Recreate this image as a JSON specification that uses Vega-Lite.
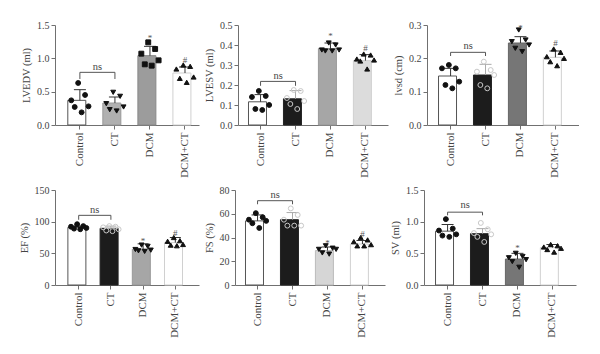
{
"$schema": "https://vega.github.io/schema/vega-lite/v6.json",
"background": "white",
"padding": {"left": 19, "top": 20, "right": 0, "bottom": 0},
"datasets": {
"bars": [
{"panel":"LVEDV","group":"Control","mean":0.37,"upper":0.53},
{"panel":"LVEDV","group":"CT","mean":0.33,"upper":0.42},
{"panel":"LVEDV","group":"DCM","mean":1.04,"upper":1.18},
{"panel":"LVEDV","group":"DCM+CT","mean":0.78,"upper":0.87},
{"panel":"LVESV","group":"Control","mean":0.116,"upper":0.152},
{"panel":"LVESV","group":"CT","mean":0.131,"upper":0.172},
{"panel":"LVESV","group":"DCM","mean":0.382,"upper":0.41},
{"panel":"LVESV","group":"DCM+CT","mean":0.322,"upper":0.352},
{"panel":"lvsd","group":"Control","mean":0.147,"upper":0.17},
{"panel":"lvsd","group":"CT","mean":0.15,"upper":0.182},
{"panel":"lvsd","group":"DCM","mean":0.246,"upper":0.265},
{"panel":"lvsd","group":"DCM+CT","mean":0.203,"upper":0.222},
{"panel":"EF","group":"Control","mean":91,"upper":93},
{"panel":"EF","group":"CT","mean":89.5,"upper":93},
{"panel":"EF","group":"DCM","mean":56.5,"upper":65},
{"panel":"EF","group":"DCM+CT","mean":67,"upper":75},
{"panel":"FS","group":"Control","mean":54,"upper":59},
{"panel":"FS","group":"CT","mean":55,"upper":61},
{"panel":"FS","group":"DCM","mean":29,"upper":32},
{"panel":"FS","group":"DCM+CT","mean":34.5,"upper":37.5},
{"panel":"SV","group":"Control","mean":0.85,"upper":0.955},
{"panel":"SV","group":"CT","mean":0.81,"upper":0.89},
{"panel":"SV","group":"DCM","mean":0.41,"upper":0.5},
{"panel":"SV","group":"DCM+CT","mean":0.59,"upper":0.64}
],
"points": [
{"panel":"LVEDV","group":"Control","rep":1,"value":0.37},{"panel":"LVEDV","group":"Control","rep":2,"value":0.27},{"panel":"LVEDV","group":"Control","rep":3,"value":0.63},{"panel":"LVEDV","group":"Control","rep":4,"value":0.19},{"panel":"LVEDV","group":"Control","rep":5,"value":0.45},{"panel":"LVEDV","group":"Control","rep":6,"value":0.28},
{"panel":"LVEDV","group":"CT","rep":1,"value":0.32},{"panel":"LVEDV","group":"CT","rep":2,"value":0.23},{"panel":"LVEDV","group":"CT","rep":3,"value":0.49},{"panel":"LVEDV","group":"CT","rep":4,"value":0.21},{"panel":"LVEDV","group":"CT","rep":5,"value":0.43},{"panel":"LVEDV","group":"CT","rep":6,"value":0.27},
{"panel":"LVEDV","group":"DCM","rep":1,"value":1.07},{"panel":"LVEDV","group":"DCM","rep":2,"value":0.91},{"panel":"LVEDV","group":"DCM","rep":3,"value":1.24},{"panel":"LVEDV","group":"DCM","rep":4,"value":0.89},{"panel":"LVEDV","group":"DCM","rep":5,"value":1.14},{"panel":"LVEDV","group":"DCM","rep":6,"value":0.97},
{"panel":"LVEDV","group":"DCM+CT","rep":1,"value":0.84},{"panel":"LVEDV","group":"DCM+CT","rep":2,"value":0.70},{"panel":"LVEDV","group":"DCM+CT","rep":3,"value":0.90},{"panel":"LVEDV","group":"DCM+CT","rep":4,"value":0.64},{"panel":"LVEDV","group":"DCM+CT","rep":5,"value":0.88},{"panel":"LVEDV","group":"DCM+CT","rep":6,"value":0.72},
{"panel":"LVESV","group":"Control","rep":1,"value":0.14},{"panel":"LVESV","group":"Control","rep":2,"value":0.08},{"panel":"LVESV","group":"Control","rep":3,"value":0.17},{"panel":"LVESV","group":"Control","rep":4,"value":0.075},{"panel":"LVESV","group":"Control","rep":5,"value":0.145},{"panel":"LVESV","group":"Control","rep":6,"value":0.10},
{"panel":"LVESV","group":"CT","rep":1,"value":0.135},{"panel":"LVESV","group":"CT","rep":2,"value":0.105},{"panel":"LVESV","group":"CT","rep":3,"value":0.175},{"panel":"LVESV","group":"CT","rep":4,"value":0.08},{"panel":"LVESV","group":"CT","rep":5,"value":0.17},{"panel":"LVESV","group":"CT","rep":6,"value":0.12},
{"panel":"LVESV","group":"DCM","rep":1,"value":0.375},{"panel":"LVESV","group":"DCM","rep":2,"value":0.37},{"panel":"LVESV","group":"DCM","rep":3,"value":0.41},{"panel":"LVESV","group":"DCM","rep":4,"value":0.37},{"panel":"LVESV","group":"DCM","rep":5,"value":0.40},{"panel":"LVESV","group":"DCM","rep":6,"value":0.375},
{"panel":"LVESV","group":"DCM+CT","rep":1,"value":0.33},{"panel":"LVESV","group":"DCM+CT","rep":2,"value":0.32},{"panel":"LVESV","group":"DCM+CT","rep":3,"value":0.355},{"panel":"LVESV","group":"DCM+CT","rep":4,"value":0.28},{"panel":"LVESV","group":"DCM+CT","rep":5,"value":0.35},{"panel":"LVESV","group":"DCM+CT","rep":6,"value":0.325},
{"panel":"lvsd","group":"Control","rep":1,"value":0.17},{"panel":"lvsd","group":"Control","rep":2,"value":0.12},{"panel":"lvsd","group":"Control","rep":3,"value":0.18},{"panel":"lvsd","group":"Control","rep":4,"value":0.11},{"panel":"lvsd","group":"Control","rep":5,"value":0.17},{"panel":"lvsd","group":"Control","rep":6,"value":0.13},
{"panel":"lvsd","group":"CT","rep":1,"value":0.16},{"panel":"lvsd","group":"CT","rep":2,"value":0.12},{"panel":"lvsd","group":"CT","rep":3,"value":0.19},{"panel":"lvsd","group":"CT","rep":4,"value":0.11},{"panel":"lvsd","group":"CT","rep":5,"value":0.165},{"panel":"lvsd","group":"CT","rep":6,"value":0.15},
{"panel":"lvsd","group":"DCM","rep":1,"value":0.25},{"panel":"lvsd","group":"DCM","rep":2,"value":0.23},{"panel":"lvsd","group":"DCM","rep":3,"value":0.285},{"panel":"lvsd","group":"DCM","rep":4,"value":0.22},{"panel":"lvsd","group":"DCM","rep":5,"value":0.255},{"panel":"lvsd","group":"DCM","rep":6,"value":0.24},
{"panel":"lvsd","group":"DCM+CT","rep":1,"value":0.205},{"panel":"lvsd","group":"DCM+CT","rep":2,"value":0.19},{"panel":"lvsd","group":"DCM+CT","rep":3,"value":0.228},{"panel":"lvsd","group":"DCM+CT","rep":4,"value":0.178},{"panel":"lvsd","group":"DCM+CT","rep":5,"value":0.218},{"panel":"lvsd","group":"DCM+CT","rep":6,"value":0.20},
{"panel":"EF","group":"Control","rep":1,"value":92},{"panel":"EF","group":"Control","rep":2,"value":89},{"panel":"EF","group":"Control","rep":3,"value":96},{"panel":"EF","group":"Control","rep":4,"value":88},{"panel":"EF","group":"Control","rep":5,"value":93},{"panel":"EF","group":"Control","rep":6,"value":90},
{"panel":"EF","group":"CT","rep":1,"value":91},{"panel":"EF","group":"CT","rep":2,"value":86},{"panel":"EF","group":"CT","rep":3,"value":93},{"panel":"EF","group":"CT","rep":4,"value":85},{"panel":"EF","group":"CT","rep":5,"value":92},{"panel":"EF","group":"CT","rep":6,"value":88},
{"panel":"EF","group":"DCM","rep":1,"value":56},{"panel":"EF","group":"DCM","rep":2,"value":54},{"panel":"EF","group":"DCM","rep":3,"value":63},{"panel":"EF","group":"DCM","rep":4,"value":53},{"panel":"EF","group":"DCM","rep":5,"value":61},{"panel":"EF","group":"DCM","rep":6,"value":55},
{"panel":"EF","group":"DCM+CT","rep":1,"value":69},{"panel":"EF","group":"DCM+CT","rep":2,"value":63},{"panel":"EF","group":"DCM+CT","rep":3,"value":75},{"panel":"EF","group":"DCM+CT","rep":4,"value":62},{"panel":"EF","group":"DCM+CT","rep":5,"value":70},{"panel":"EF","group":"DCM+CT","rep":6,"value":64},
{"panel":"FS","group":"Control","rep":1,"value":55},{"panel":"FS","group":"Control","rep":2,"value":52},{"panel":"FS","group":"Control","rep":3,"value":60.5},{"panel":"FS","group":"Control","rep":4,"value":48},{"panel":"FS","group":"Control","rep":5,"value":57},{"panel":"FS","group":"Control","rep":6,"value":54},
{"panel":"FS","group":"CT","rep":1,"value":55},{"panel":"FS","group":"CT","rep":2,"value":50},{"panel":"FS","group":"CT","rep":3,"value":64.5},{"panel":"FS","group":"CT","rep":4,"value":50},{"panel":"FS","group":"CT","rep":5,"value":59},{"panel":"FS","group":"CT","rep":6,"value":50},
{"panel":"FS","group":"DCM","rep":1,"value":30},{"panel":"FS","group":"DCM","rep":2,"value":27},{"panel":"FS","group":"DCM","rep":3,"value":33},{"panel":"FS","group":"DCM","rep":4,"value":26},{"panel":"FS","group":"DCM","rep":5,"value":31},{"panel":"FS","group":"DCM","rep":6,"value":30},
{"panel":"FS","group":"DCM+CT","rep":1,"value":36.5},{"panel":"FS","group":"DCM+CT","rep":2,"value":33},{"panel":"FS","group":"DCM+CT","rep":3,"value":40},{"panel":"FS","group":"DCM+CT","rep":4,"value":33},{"panel":"FS","group":"DCM+CT","rep":5,"value":38},{"panel":"FS","group":"DCM+CT","rep":6,"value":34},
{"panel":"SV","group":"Control","rep":1,"value":0.86},{"panel":"SV","group":"Control","rep":2,"value":0.78},{"panel":"SV","group":"Control","rep":3,"value":1.04},{"panel":"SV","group":"Control","rep":4,"value":0.76},{"panel":"SV","group":"Control","rep":5,"value":0.89},{"panel":"SV","group":"Control","rep":6,"value":0.80},
{"panel":"SV","group":"CT","rep":1,"value":0.82},{"panel":"SV","group":"CT","rep":2,"value":0.76},{"panel":"SV","group":"CT","rep":3,"value":0.98},{"panel":"SV","group":"CT","rep":4,"value":0.68},{"panel":"SV","group":"CT","rep":5,"value":0.88},{"panel":"SV","group":"CT","rep":6,"value":0.80},
{"panel":"SV","group":"DCM","rep":1,"value":0.43},{"panel":"SV","group":"DCM","rep":2,"value":0.37},{"panel":"SV","group":"DCM","rep":3,"value":0.50},{"panel":"SV","group":"DCM","rep":4,"value":0.28},{"panel":"SV","group":"DCM","rep":5,"value":0.45},{"panel":"SV","group":"DCM","rep":6,"value":0.40},
{"panel":"SV","group":"DCM+CT","rep":1,"value":0.60},{"panel":"SV","group":"DCM+CT","rep":2,"value":0.56},{"panel":"SV","group":"DCM+CT","rep":3,"value":0.64},{"panel":"SV","group":"DCM+CT","rep":4,"value":0.52},{"panel":"SV","group":"DCM+CT","rep":5,"value":0.62},{"panel":"SV","group":"DCM+CT","rep":6,"value":0.58}
],
"brackets": [
{"panel":"LVEDV","from":"Control","to":"CT","y":0.79,"ylow":0.69,"ytext":0.87,"label":"ns"},
{"panel":"LVESV","from":"Control","to":"CT","y":0.218,"ylow":0.196,"ytext":0.245,"label":"ns"},
{"panel":"lvsd","from":"Control","to":"CT","y":0.218,"ylow":0.207,"ytext":0.236,"label":"ns"},
{"panel":"EF","from":"Control","to":"CT","y":110,"ylow":103,"ytext":119,"label":"ns"},
{"panel":"FS","from":"Control","to":"CT","y":71,"ylow":68,"ytext":76,"label":"ns"},
{"panel":"SV","from":"Control","to":"CT","y":1.15,"ylow":1.1,"ytext":1.26,"label":"ns"}
],
"sig": [
{"panel":"LVEDV","group":"DCM","y":1.31,"label":"*"},
{"panel":"LVEDV","group":"DCM+CT","y":0.97,"label":"#"},
{"panel":"LVESV","group":"DCM","y":0.445,"label":"*"},
{"panel":"LVESV","group":"DCM+CT","y":0.385,"label":"#"},
{"panel":"lvsd","group":"DCM","y":0.29,"label":"*"},
{"panel":"lvsd","group":"DCM+CT","y":0.245,"label":"#"},
{"panel":"EF","group":"DCM","y":69,"label":"*"},
{"panel":"EF","group":"DCM+CT","y":82,"label":"#"},
{"panel":"FS","group":"DCM","y":35,"label":"*"},
{"panel":"FS","group":"DCM+CT","y":43,"label":"#"},
{"panel":"SV","group":"DCM","y":0.59,"label":"*"}
]
},
"spacing": 7,
"resolve": {"scale": {"xOffset": "independent"}},
"vconcat": [
{"hconcat": [
{"width": 144, "height": 100, "layer": [
{"data": {"name": "bars"}, "transform": [{"filter": "datum.panel === 'LVEDV'"}], "mark": {"type": "bar", "strokeWidth": 1},
 "encoding": {
  "x": {"field": "group", "type": "nominal", "title": null, "scale": {"domain": ["Control","CT","DCM","DCM+CT"], "paddingInner": 0.31, "paddingOuter": 0.21, "align": 0.87}},
  "y": {"field": "mean", "type": "quantitative", "scale": {"domain": [0, 1.5], "nice": false}, "axis": {"title": "LVEDV (ml)", "orient": "left", "values": [0, 0.5, 1, 1.5], "format": ".1f", "labelOverlap": false, "labelBound": false, "labelFlush": false, "titleAnchor": "middle", "titleAlign": "center"}},
  "fill": {"condition": [{"test": "datum.group === 'CT'", "value": "#b0b0b0"}, {"test": "datum.group === 'DCM'", "value": "#9c9c9c"}], "value": "#ffffff"},
  "stroke": {"condition": [{"test": "datum.group === 'DCM+CT'", "value": "#d0d0d0"}, {"test": "datum.group === 'CT'", "value": "#999999"}, {"test": "datum.group === 'DCM'", "value": "#888888"}], "value": "#555555"}}},
{"data": {"name": "bars"}, "transform": [{"filter": "datum.panel === 'LVEDV'"}], "mark": {"type": "rule", "strokeWidth": 1, "color": "#333333"},
 "encoding": {"x": {"field": "group", "type": "nominal", "title": null}, "y": {"field": "mean", "type": "quantitative", "axis": {"title": "LVEDV (ml)", "orient": "left", "values": [0, 0.5, 1, 1.5], "format": ".1f", "labelOverlap": false, "labelBound": false, "labelFlush": false, "titleAnchor": "middle", "titleAlign": "center"}}, "y2": {"field": "upper"}}},
{"data": {"name": "bars"}, "transform": [{"filter": "datum.panel === 'LVEDV'"}], "mark": {"type": "tick", "orient": "horizontal", "size": 12, "thickness": 1, "opacity": 1, "color": "#333333"},
 "encoding": {"x": {"field": "group", "type": "nominal", "title": null}, "y": {"field": "upper", "type": "quantitative", "axis": {"title": "LVEDV (ml)", "orient": "left", "values": [0, 0.5, 1, 1.5], "format": ".1f", "labelOverlap": false, "labelBound": false, "labelFlush": false, "titleAnchor": "middle", "titleAlign": "center"}}}},
{"data": {"name": "points"}, "transform": [{"filter": "datum.panel === 'LVEDV'"}], "mark": {"type": "point", "size": 24, "strokeWidth": 1, "opacity": 1},
 "encoding": {"x": {"field": "group", "type": "nominal", "title": null}, "xOffset": {"field": "rep", "type": "ordinal", "scale": {"type": "point", "padding": 1.5}}, "y": {"field": "value", "type": "quantitative", "axis": {"title": "LVEDV (ml)", "orient": "left", "values": [0, 0.5, 1, 1.5], "format": ".1f", "labelOverlap": false, "labelBound": false, "labelFlush": false, "titleAnchor": "middle", "titleAlign": "center"}},
  "shape": {"condition": [{"test": "datum.group === 'CT'", "value": "triangle-down"}, {"test": "datum.group === 'DCM'", "value": "square"}, {"test": "datum.group === 'DCM+CT'", "value": "triangle-up"}], "value": "circle"},
  "fill": {"value": "#111111"}, "stroke": {"value": "#111111"}}},
{"data": {"name": "brackets"}, "transform": [{"filter": "datum.panel === 'LVEDV'"}], "mark": {"type": "rule", "color": "#555555", "strokeWidth": 1},
 "encoding": {"x": {"field": "from", "type": "nominal", "title": null}, "x2": {"field": "to"}, "y": {"field": "y", "type": "quantitative", "axis": {"title": "LVEDV (ml)", "orient": "left", "values": [0, 0.5, 1, 1.5], "format": ".1f", "labelOverlap": false, "labelBound": false, "labelFlush": false, "titleAnchor": "middle", "titleAlign": "center"}}}},
{"data": {"name": "brackets"}, "transform": [{"filter": "datum.panel === 'LVEDV'"}], "mark": {"type": "rule", "color": "#555555", "strokeWidth": 1},
 "encoding": {"x": {"field": "from", "type": "nominal", "title": null}, "y": {"field": "y", "type": "quantitative", "axis": {"title": "LVEDV (ml)", "orient": "left", "values": [0, 0.5, 1, 1.5], "format": ".1f", "labelOverlap": false, "labelBound": false, "labelFlush": false, "titleAnchor": "middle", "titleAlign": "center"}}, "y2": {"field": "ylow"}}},
{"data": {"name": "brackets"}, "transform": [{"filter": "datum.panel === 'LVEDV'"}], "mark": {"type": "rule", "color": "#555555", "strokeWidth": 1},
 "encoding": {"x": {"field": "to", "type": "nominal", "title": null}, "y": {"field": "y", "type": "quantitative", "axis": {"title": "LVEDV (ml)", "orient": "left", "values": [0, 0.5, 1, 1.5], "format": ".1f", "labelOverlap": false, "labelBound": false, "labelFlush": false, "titleAnchor": "middle", "titleAlign": "center"}}, "y2": {"field": "ylow"}}},
{"data": {"name": "brackets"}, "transform": [{"filter": "datum.panel === 'LVEDV'"}], "mark": {"type": "text", "dx": 17.5, "fontSize": 10.5, "color": "#444444"},
 "encoding": {"x": {"field": "from", "type": "nominal", "title": null}, "y": {"field": "ytext", "type": "quantitative", "axis": {"title": "LVEDV (ml)", "orient": "left", "values": [0, 0.5, 1, 1.5], "format": ".1f", "labelOverlap": false, "labelBound": false, "labelFlush": false, "titleAnchor": "middle", "titleAlign": "center"}}, "text": {"field": "label"}}},
{"data": {"name": "sig"}, "transform": [{"filter": "datum.panel === 'LVEDV'"}], "mark": {"type": "text", "fontSize": 9, "color": "#555555"},
 "encoding": {"x": {"field": "group", "type": "nominal", "title": null}, "y": {"field": "y", "type": "quantitative", "axis": {"title": "LVEDV (ml)", "orient": "left", "values": [0, 0.5, 1, 1.5], "format": ".1f", "labelOverlap": false, "labelBound": false, "labelFlush": false, "titleAnchor": "middle", "titleAlign": "center"}}, "text": {"field": "label"}}}
]},
{"width": 150, "height": 100, "layer": [
{"data": {"name": "bars"}, "transform": [{"filter": "datum.panel === 'LVESV'"}], "mark": {"type": "bar", "strokeWidth": 1},
 "encoding": {
  "x": {"field": "group", "type": "nominal", "title": null, "scale": {"domain": ["Control","CT","DCM","DCM+CT"], "paddingInner": 0.31, "paddingOuter": 0.3}},
  "y": {"field": "mean", "type": "quantitative", "scale": {"domain": [0, 0.5], "nice": false}, "axis": {"title": "LVESV (ml)", "orient": "left", "values": [0, 0.1, 0.2, 0.3, 0.4, 0.5], "format": ".1f", "labelOverlap": false, "labelBound": false, "labelFlush": false, "titleAnchor": "middle", "titleAlign": "center"}},
  "fill": {"condition": [{"test": "datum.group === 'CT'", "value": "#1c1c1c"}, {"test": "datum.group === 'DCM'", "value": "#a6a6a6"}, {"test": "datum.group === 'DCM+CT'", "value": "#dcdcdc"}], "value": "#ffffff"},
  "stroke": {"condition": [{"test": "datum.group === 'DCM+CT'", "value": "#d0d0d0"}, {"test": "datum.group === 'CT'", "value": "#222222"}, {"test": "datum.group === 'DCM'", "value": "#999999"}], "value": "#555555"}}},
{"data": {"name": "bars"}, "transform": [{"filter": "datum.panel === 'LVESV'"}], "mark": {"type": "rule", "strokeWidth": 1},
 "encoding": {"x": {"field": "group", "type": "nominal", "title": null}, "y": {"field": "mean", "type": "quantitative", "axis": {"title": "LVESV (ml)", "orient": "left", "values": [0, 0.1, 0.2, 0.3, 0.4, 0.5], "format": ".1f", "labelOverlap": false, "labelBound": false, "labelFlush": false, "titleAnchor": "middle", "titleAlign": "center"}}, "y2": {"field": "upper"}, "color": {"condition": {"test": "datum.group === 'CT'", "value": "#aaaaaa"}, "value": "#333333"}}},
{"data": {"name": "bars"}, "transform": [{"filter": "datum.panel === 'LVESV'"}], "mark": {"type": "tick", "orient": "horizontal", "size": 12, "thickness": 1, "opacity": 1},
 "encoding": {"x": {"field": "group", "type": "nominal", "title": null}, "y": {"field": "upper", "type": "quantitative", "axis": {"title": "LVESV (ml)", "orient": "left", "values": [0, 0.1, 0.2, 0.3, 0.4, 0.5], "format": ".1f", "labelOverlap": false, "labelBound": false, "labelFlush": false, "titleAnchor": "middle", "titleAlign": "center"}}, "color": {"condition": {"test": "datum.group === 'CT'", "value": "#aaaaaa"}, "value": "#333333"}}},
{"data": {"name": "points"}, "transform": [{"filter": "datum.panel === 'LVESV'"}], "mark": {"type": "point", "size": 24, "strokeWidth": 1, "opacity": 1},
 "encoding": {"x": {"field": "group", "type": "nominal", "title": null}, "xOffset": {"field": "rep", "type": "ordinal", "scale": {"type": "point", "padding": 1.5}}, "y": {"field": "value", "type": "quantitative", "axis": {"title": "LVESV (ml)", "orient": "left", "values": [0, 0.1, 0.2, 0.3, 0.4, 0.5], "format": ".1f", "labelOverlap": false, "labelBound": false, "labelFlush": false, "titleAnchor": "middle", "titleAlign": "center"}},
  "shape": {"condition": [{"test": "datum.group === 'DCM'", "value": "triangle-down"}, {"test": "datum.group === 'DCM+CT'", "value": "triangle-up"}], "value": "circle"},
  "fill": {"condition": {"test": "datum.group === 'CT'", "value": "transparent"}, "value": "#111111"}, "stroke": {"condition": {"test": "datum.group === 'CT'", "value": "#c8c8c8"}, "value": "#111111"}}},
{"data": {"name": "brackets"}, "transform": [{"filter": "datum.panel === 'LVESV'"}], "mark": {"type": "rule", "color": "#555555", "strokeWidth": 1},
 "encoding": {"x": {"field": "from", "type": "nominal", "title": null}, "x2": {"field": "to"}, "y": {"field": "y", "type": "quantitative", "axis": {"title": "LVESV (ml)", "orient": "left", "values": [0, 0.1, 0.2, 0.3, 0.4, 0.5], "format": ".1f", "labelOverlap": false, "labelBound": false, "labelFlush": false, "titleAnchor": "middle", "titleAlign": "center"}}}},
{"data": {"name": "brackets"}, "transform": [{"filter": "datum.panel === 'LVESV'"}], "mark": {"type": "rule", "color": "#555555", "strokeWidth": 1},
 "encoding": {"x": {"field": "from", "type": "nominal", "title": null}, "y": {"field": "y", "type": "quantitative", "axis": {"title": "LVESV (ml)", "orient": "left", "values": [0, 0.1, 0.2, 0.3, 0.4, 0.5], "format": ".1f", "labelOverlap": false, "labelBound": false, "labelFlush": false, "titleAnchor": "middle", "titleAlign": "center"}}, "y2": {"field": "ylow"}}},
{"data": {"name": "brackets"}, "transform": [{"filter": "datum.panel === 'LVESV'"}], "mark": {"type": "rule", "color": "#555555", "strokeWidth": 1},
 "encoding": {"x": {"field": "to", "type": "nominal", "title": null}, "y": {"field": "y", "type": "quantitative", "axis": {"title": "LVESV (ml)", "orient": "left", "values": [0, 0.1, 0.2, 0.3, 0.4, 0.5], "format": ".1f", "labelOverlap": false, "labelBound": false, "labelFlush": false, "titleAnchor": "middle", "titleAlign": "center"}}, "y2": {"field": "ylow"}}},
{"data": {"name": "brackets"}, "transform": [{"filter": "datum.panel === 'LVESV'"}], "mark": {"type": "text", "dx": 17.5, "fontSize": 10.5, "color": "#444444"},
 "encoding": {"x": {"field": "from", "type": "nominal", "title": null}, "y": {"field": "ytext", "type": "quantitative", "axis": {"title": "LVESV (ml)", "orient": "left", "values": [0, 0.1, 0.2, 0.3, 0.4, 0.5], "format": ".1f", "labelOverlap": false, "labelBound": false, "labelFlush": false, "titleAnchor": "middle", "titleAlign": "center"}}, "text": {"field": "label"}}},
{"data": {"name": "sig"}, "transform": [{"filter": "datum.panel === 'LVESV'"}], "mark": {"type": "text", "fontSize": 9, "color": "#555555"},
 "encoding": {"x": {"field": "group", "type": "nominal", "title": null}, "y": {"field": "y", "type": "quantitative", "axis": {"title": "LVESV (ml)", "orient": "left", "values": [0, 0.1, 0.2, 0.3, 0.4, 0.5], "format": ".1f", "labelOverlap": false, "labelBound": false, "labelFlush": false, "titleAnchor": "middle", "titleAlign": "center"}}, "text": {"field": "label"}}}
]},
{"width": 152, "height": 100, "layer": [
{"data": {"name": "bars"}, "transform": [{"filter": "datum.panel === 'lvsd'"}], "mark": {"type": "bar", "strokeWidth": 1},
 "encoding": {
  "x": {"field": "group", "type": "nominal", "title": null, "scale": {"domain": ["Control","CT","DCM","DCM+CT"], "paddingInner": 0.31, "paddingOuter": 0.33}},
  "y": {"field": "mean", "type": "quantitative", "scale": {"domain": [0, 0.3], "nice": false}, "axis": {"title": "lvsd (cm)", "orient": "left", "values": [0, 0.1, 0.2, 0.3], "format": ".1f", "labelOverlap": false, "labelBound": false, "labelFlush": false, "titleAnchor": "middle", "titleAlign": "center"}},
  "fill": {"condition": [{"test": "datum.group === 'CT'", "value": "#1c1c1c"}, {"test": "datum.group === 'DCM'", "value": "#767676"}], "value": "#ffffff"},
  "stroke": {"condition": [{"test": "datum.group === 'DCM+CT'", "value": "#d0d0d0"}, {"test": "datum.group === 'CT'", "value": "#222222"}, {"test": "datum.group === 'DCM'", "value": "#666666"}], "value": "#555555"}}},
{"data": {"name": "bars"}, "transform": [{"filter": "datum.panel === 'lvsd'"}], "mark": {"type": "rule", "strokeWidth": 1},
 "encoding": {"x": {"field": "group", "type": "nominal", "title": null}, "y": {"field": "mean", "type": "quantitative", "axis": {"title": "lvsd (cm)", "orient": "left", "values": [0, 0.1, 0.2, 0.3], "format": ".1f", "labelOverlap": false, "labelBound": false, "labelFlush": false, "titleAnchor": "middle", "titleAlign": "center"}}, "y2": {"field": "upper"}, "color": {"condition": {"test": "datum.group === 'CT'", "value": "#aaaaaa"}, "value": "#333333"}}},
{"data": {"name": "bars"}, "transform": [{"filter": "datum.panel === 'lvsd'"}], "mark": {"type": "tick", "orient": "horizontal", "size": 12, "thickness": 1, "opacity": 1},
 "encoding": {"x": {"field": "group", "type": "nominal", "title": null}, "y": {"field": "upper", "type": "quantitative", "axis": {"title": "lvsd (cm)", "orient": "left", "values": [0, 0.1, 0.2, 0.3], "format": ".1f", "labelOverlap": false, "labelBound": false, "labelFlush": false, "titleAnchor": "middle", "titleAlign": "center"}}, "color": {"condition": {"test": "datum.group === 'CT'", "value": "#aaaaaa"}, "value": "#333333"}}},
{"data": {"name": "points"}, "transform": [{"filter": "datum.panel === 'lvsd'"}], "mark": {"type": "point", "size": 24, "strokeWidth": 1, "opacity": 1},
 "encoding": {"x": {"field": "group", "type": "nominal", "title": null}, "xOffset": {"field": "rep", "type": "ordinal", "scale": {"type": "point", "padding": 1.5}}, "y": {"field": "value", "type": "quantitative", "axis": {"title": "lvsd (cm)", "orient": "left", "values": [0, 0.1, 0.2, 0.3], "format": ".1f", "labelOverlap": false, "labelBound": false, "labelFlush": false, "titleAnchor": "middle", "titleAlign": "center"}},
  "shape": {"condition": [{"test": "datum.group === 'DCM'", "value": "triangle-down"}, {"test": "datum.group === 'DCM+CT'", "value": "triangle-up"}], "value": "circle"},
  "fill": {"condition": {"test": "datum.group === 'CT'", "value": "transparent"}, "value": "#111111"}, "stroke": {"condition": {"test": "datum.group === 'CT'", "value": "#c8c8c8"}, "value": "#111111"}}},
{"data": {"name": "brackets"}, "transform": [{"filter": "datum.panel === 'lvsd'"}], "mark": {"type": "rule", "color": "#555555", "strokeWidth": 1},
 "encoding": {"x": {"field": "from", "type": "nominal", "title": null}, "x2": {"field": "to"}, "y": {"field": "y", "type": "quantitative", "axis": {"title": "lvsd (cm)", "orient": "left", "values": [0, 0.1, 0.2, 0.3], "format": ".1f", "labelOverlap": false, "labelBound": false, "labelFlush": false, "titleAnchor": "middle", "titleAlign": "center"}}}},
{"data": {"name": "brackets"}, "transform": [{"filter": "datum.panel === 'lvsd'"}], "mark": {"type": "rule", "color": "#555555", "strokeWidth": 1},
 "encoding": {"x": {"field": "from", "type": "nominal", "title": null}, "y": {"field": "y", "type": "quantitative", "axis": {"title": "lvsd (cm)", "orient": "left", "values": [0, 0.1, 0.2, 0.3], "format": ".1f", "labelOverlap": false, "labelBound": false, "labelFlush": false, "titleAnchor": "middle", "titleAlign": "center"}}, "y2": {"field": "ylow"}}},
{"data": {"name": "brackets"}, "transform": [{"filter": "datum.panel === 'lvsd'"}], "mark": {"type": "rule", "color": "#555555", "strokeWidth": 1},
 "encoding": {"x": {"field": "to", "type": "nominal", "title": null}, "y": {"field": "y", "type": "quantitative", "axis": {"title": "lvsd (cm)", "orient": "left", "values": [0, 0.1, 0.2, 0.3], "format": ".1f", "labelOverlap": false, "labelBound": false, "labelFlush": false, "titleAnchor": "middle", "titleAlign": "center"}}, "y2": {"field": "ylow"}}},
{"data": {"name": "brackets"}, "transform": [{"filter": "datum.panel === 'lvsd'"}], "mark": {"type": "text", "dx": 17.5, "fontSize": 10.5, "color": "#444444"},
 "encoding": {"x": {"field": "from", "type": "nominal", "title": null}, "y": {"field": "ytext", "type": "quantitative", "axis": {"title": "lvsd (cm)", "orient": "left", "values": [0, 0.1, 0.2, 0.3], "format": ".1f", "labelOverlap": false, "labelBound": false, "labelFlush": false, "titleAnchor": "middle", "titleAlign": "center"}}, "text": {"field": "label"}}},
{"data": {"name": "sig"}, "transform": [{"filter": "datum.panel === 'lvsd'"}], "mark": {"type": "text", "fontSize": 9, "color": "#555555"},
 "encoding": {"x": {"field": "group", "type": "nominal", "title": null}, "y": {"field": "y", "type": "quantitative", "axis": {"title": "lvsd (cm)", "orient": "left", "values": [0, 0.1, 0.2, 0.3], "format": ".1f", "labelOverlap": false, "labelBound": false, "labelFlush": false, "titleAnchor": "middle", "titleAlign": "center"}}, "text": {"field": "label"}}}
]}
], "spacing": 5, "resolve": {"scale": {"xOffset": "independent"}}},
{"hconcat": [
{"width": 144, "height": 95, "layer": [
{"data": {"name": "bars"}, "transform": [{"filter": "datum.panel === 'EF'"}], "mark": {"type": "bar", "strokeWidth": 1},
 "encoding": {
  "x": {"field": "group", "type": "nominal", "title": null, "scale": {"domain": ["Control","CT","DCM","DCM+CT"], "paddingInner": 0.33, "paddingOuter": 0.4}},
  "y": {"field": "mean", "type": "quantitative", "scale": {"domain": [0, 150], "nice": false}, "axis": {"title": "EF (%)", "orient": "left", "values": [0, 50, 100, 150], "format": "d", "labelOverlap": false, "labelBound": false, "labelFlush": false, "titleAnchor": "middle", "titleAlign": "center"}},
  "fill": {"condition": [{"test": "datum.group === 'CT'", "value": "#1c1c1c"}, {"test": "datum.group === 'DCM'", "value": "#a6a6a6"}], "value": "#ffffff"},
  "stroke": {"condition": [{"test": "datum.group === 'DCM+CT'", "value": "#d0d0d0"}, {"test": "datum.group === 'CT'", "value": "#222222"}, {"test": "datum.group === 'DCM'", "value": "#999999"}], "value": "#555555"}}},
{"data": {"name": "bars"}, "transform": [{"filter": "datum.panel === 'EF'"}], "mark": {"type": "rule", "strokeWidth": 1},
 "encoding": {"x": {"field": "group", "type": "nominal", "title": null}, "y": {"field": "mean", "type": "quantitative", "axis": {"title": "EF (%)", "orient": "left", "values": [0, 50, 100, 150], "format": "d", "labelOverlap": false, "labelBound": false, "labelFlush": false, "titleAnchor": "middle", "titleAlign": "center"}}, "y2": {"field": "upper"}, "color": {"condition": {"test": "datum.group === 'CT'", "value": "#aaaaaa"}, "value": "#333333"}}},
{"data": {"name": "bars"}, "transform": [{"filter": "datum.panel === 'EF'"}], "mark": {"type": "tick", "orient": "horizontal", "size": 11, "thickness": 1, "opacity": 1},
 "encoding": {"x": {"field": "group", "type": "nominal", "title": null}, "y": {"field": "upper", "type": "quantitative", "axis": {"title": "EF (%)", "orient": "left", "values": [0, 50, 100, 150], "format": "d", "labelOverlap": false, "labelBound": false, "labelFlush": false, "titleAnchor": "middle", "titleAlign": "center"}}, "color": {"condition": {"test": "datum.group === 'CT'", "value": "#aaaaaa"}, "value": "#333333"}}},
{"data": {"name": "points"}, "transform": [{"filter": "datum.panel === 'EF'"}], "mark": {"type": "point", "size": 24, "strokeWidth": 1, "opacity": 1},
 "encoding": {"x": {"field": "group", "type": "nominal", "title": null}, "xOffset": {"field": "rep", "type": "ordinal", "scale": {"type": "point", "padding": 1.5}}, "y": {"field": "value", "type": "quantitative", "axis": {"title": "EF (%)", "orient": "left", "values": [0, 50, 100, 150], "format": "d", "labelOverlap": false, "labelBound": false, "labelFlush": false, "titleAnchor": "middle", "titleAlign": "center"}},
  "shape": {"condition": [{"test": "datum.group === 'DCM'", "value": "triangle-down"}, {"test": "datum.group === 'DCM+CT'", "value": "triangle-up"}], "value": "circle"},
  "fill": {"condition": {"test": "datum.group === 'CT'", "value": "transparent"}, "value": "#111111"}, "stroke": {"condition": {"test": "datum.group === 'CT'", "value": "#c8c8c8"}, "value": "#111111"}}},
{"data": {"name": "brackets"}, "transform": [{"filter": "datum.panel === 'EF'"}], "mark": {"type": "rule", "color": "#555555", "strokeWidth": 1},
 "encoding": {"x": {"field": "from", "type": "nominal", "title": null}, "x2": {"field": "to"}, "y": {"field": "y", "type": "quantitative", "axis": {"title": "EF (%)", "orient": "left", "values": [0, 50, 100, 150], "format": "d", "labelOverlap": false, "labelBound": false, "labelFlush": false, "titleAnchor": "middle", "titleAlign": "center"}}}},
{"data": {"name": "brackets"}, "transform": [{"filter": "datum.panel === 'EF'"}], "mark": {"type": "rule", "color": "#555555", "strokeWidth": 1},
 "encoding": {"x": {"field": "from", "type": "nominal", "title": null}, "y": {"field": "y", "type": "quantitative", "axis": {"title": "EF (%)", "orient": "left", "values": [0, 50, 100, 150], "format": "d", "labelOverlap": false, "labelBound": false, "labelFlush": false, "titleAnchor": "middle", "titleAlign": "center"}}, "y2": {"field": "ylow"}}},
{"data": {"name": "brackets"}, "transform": [{"filter": "datum.panel === 'EF'"}], "mark": {"type": "rule", "color": "#555555", "strokeWidth": 1},
 "encoding": {"x": {"field": "to", "type": "nominal", "title": null}, "y": {"field": "y", "type": "quantitative", "axis": {"title": "EF (%)", "orient": "left", "values": [0, 50, 100, 150], "format": "d", "labelOverlap": false, "labelBound": false, "labelFlush": false, "titleAnchor": "middle", "titleAlign": "center"}}, "y2": {"field": "ylow"}}},
{"data": {"name": "brackets"}, "transform": [{"filter": "datum.panel === 'EF'"}], "mark": {"type": "text", "dx": 16, "fontSize": 10.5, "color": "#444444"},
 "encoding": {"x": {"field": "from", "type": "nominal", "title": null}, "y": {"field": "ytext", "type": "quantitative", "axis": {"title": "EF (%)", "orient": "left", "values": [0, 50, 100, 150], "format": "d", "labelOverlap": false, "labelBound": false, "labelFlush": false, "titleAnchor": "middle", "titleAlign": "center"}}, "text": {"field": "label"}}},
{"data": {"name": "sig"}, "transform": [{"filter": "datum.panel === 'EF'"}], "mark": {"type": "text", "fontSize": 9, "color": "#555555"},
 "encoding": {"x": {"field": "group", "type": "nominal", "title": null}, "y": {"field": "y", "type": "quantitative", "axis": {"title": "EF (%)", "orient": "left", "values": [0, 50, 100, 150], "format": "d", "labelOverlap": false, "labelBound": false, "labelFlush": false, "titleAnchor": "middle", "titleAlign": "center"}}, "text": {"field": "label"}}}
]},
{"width": 150, "height": 95, "layer": [
{"data": {"name": "bars"}, "transform": [{"filter": "datum.panel === 'FS'"}], "mark": {"type": "bar", "strokeWidth": 1},
 "encoding": {
  "x": {"field": "group", "type": "nominal", "title": null, "scale": {"domain": ["Control","CT","DCM","DCM+CT"], "paddingInner": 0.31, "paddingOuter": 0.3}},
  "y": {"field": "mean", "type": "quantitative", "scale": {"domain": [0, 80], "nice": false}, "axis": {"title": "FS (%)", "orient": "left", "values": [0, 20, 40, 60, 80], "format": "d", "labelOverlap": false, "labelBound": false, "labelFlush": false, "titleAnchor": "middle", "titleAlign": "center"}},
  "fill": {"condition": [{"test": "datum.group === 'CT'", "value": "#1c1c1c"}, {"test": "datum.group === 'DCM'", "value": "#d6d6d6"}], "value": "#ffffff"},
  "stroke": {"condition": [{"test": "datum.group === 'DCM+CT'", "value": "#d0d0d0"}, {"test": "datum.group === 'CT'", "value": "#222222"}, {"test": "datum.group === 'DCM'", "value": "#bbbbbb"}], "value": "#555555"}}},
{"data": {"name": "bars"}, "transform": [{"filter": "datum.panel === 'FS'"}], "mark": {"type": "rule", "strokeWidth": 1},
 "encoding": {"x": {"field": "group", "type": "nominal", "title": null}, "y": {"field": "mean", "type": "quantitative", "axis": {"title": "FS (%)", "orient": "left", "values": [0, 20, 40, 60, 80], "format": "d", "labelOverlap": false, "labelBound": false, "labelFlush": false, "titleAnchor": "middle", "titleAlign": "center"}}, "y2": {"field": "upper"}, "color": {"condition": {"test": "datum.group === 'CT'", "value": "#aaaaaa"}, "value": "#333333"}}},
{"data": {"name": "bars"}, "transform": [{"filter": "datum.panel === 'FS'"}], "mark": {"type": "tick", "orient": "horizontal", "size": 12, "thickness": 1, "opacity": 1},
 "encoding": {"x": {"field": "group", "type": "nominal", "title": null}, "y": {"field": "upper", "type": "quantitative", "axis": {"title": "FS (%)", "orient": "left", "values": [0, 20, 40, 60, 80], "format": "d", "labelOverlap": false, "labelBound": false, "labelFlush": false, "titleAnchor": "middle", "titleAlign": "center"}}, "color": {"condition": {"test": "datum.group === 'CT'", "value": "#aaaaaa"}, "value": "#333333"}}},
{"data": {"name": "points"}, "transform": [{"filter": "datum.panel === 'FS'"}], "mark": {"type": "point", "size": 24, "strokeWidth": 1, "opacity": 1},
 "encoding": {"x": {"field": "group", "type": "nominal", "title": null}, "xOffset": {"field": "rep", "type": "ordinal", "scale": {"type": "point", "padding": 1.5}}, "y": {"field": "value", "type": "quantitative", "axis": {"title": "FS (%)", "orient": "left", "values": [0, 20, 40, 60, 80], "format": "d", "labelOverlap": false, "labelBound": false, "labelFlush": false, "titleAnchor": "middle", "titleAlign": "center"}},
  "shape": {"condition": [{"test": "datum.group === 'DCM'", "value": "triangle-down"}, {"test": "datum.group === 'DCM+CT'", "value": "triangle-up"}], "value": "circle"},
  "fill": {"condition": {"test": "datum.group === 'CT'", "value": "transparent"}, "value": "#111111"}, "stroke": {"condition": {"test": "datum.group === 'CT'", "value": "#c8c8c8"}, "value": "#111111"}}},
{"data": {"name": "brackets"}, "transform": [{"filter": "datum.panel === 'FS'"}], "mark": {"type": "rule", "color": "#555555", "strokeWidth": 1},
 "encoding": {"x": {"field": "from", "type": "nominal", "title": null}, "x2": {"field": "to"}, "y": {"field": "y", "type": "quantitative", "axis": {"title": "FS (%)", "orient": "left", "values": [0, 20, 40, 60, 80], "format": "d", "labelOverlap": false, "labelBound": false, "labelFlush": false, "titleAnchor": "middle", "titleAlign": "center"}}}},
{"data": {"name": "brackets"}, "transform": [{"filter": "datum.panel === 'FS'"}], "mark": {"type": "rule", "color": "#555555", "strokeWidth": 1},
 "encoding": {"x": {"field": "from", "type": "nominal", "title": null}, "y": {"field": "y", "type": "quantitative", "axis": {"title": "FS (%)", "orient": "left", "values": [0, 20, 40, 60, 80], "format": "d", "labelOverlap": false, "labelBound": false, "labelFlush": false, "titleAnchor": "middle", "titleAlign": "center"}}, "y2": {"field": "ylow"}}},
{"data": {"name": "brackets"}, "transform": [{"filter": "datum.panel === 'FS'"}], "mark": {"type": "rule", "color": "#555555", "strokeWidth": 1},
 "encoding": {"x": {"field": "to", "type": "nominal", "title": null}, "y": {"field": "y", "type": "quantitative", "axis": {"title": "FS (%)", "orient": "left", "values": [0, 20, 40, 60, 80], "format": "d", "labelOverlap": false, "labelBound": false, "labelFlush": false, "titleAnchor": "middle", "titleAlign": "center"}}, "y2": {"field": "ylow"}}},
{"data": {"name": "brackets"}, "transform": [{"filter": "datum.panel === 'FS'"}], "mark": {"type": "text", "dx": 17.5, "fontSize": 10.5, "color": "#444444"},
 "encoding": {"x": {"field": "from", "type": "nominal", "title": null}, "y": {"field": "ytext", "type": "quantitative", "axis": {"title": "FS (%)", "orient": "left", "values": [0, 20, 40, 60, 80], "format": "d", "labelOverlap": false, "labelBound": false, "labelFlush": false, "titleAnchor": "middle", "titleAlign": "center"}}, "text": {"field": "label"}}},
{"data": {"name": "sig"}, "transform": [{"filter": "datum.panel === 'FS'"}], "mark": {"type": "text", "fontSize": 9, "color": "#555555"},
 "encoding": {"x": {"field": "group", "type": "nominal", "title": null}, "y": {"field": "y", "type": "quantitative", "axis": {"title": "FS (%)", "orient": "left", "values": [0, 20, 40, 60, 80], "format": "d", "labelOverlap": false, "labelBound": false, "labelFlush": false, "titleAnchor": "middle", "titleAlign": "center"}}, "text": {"field": "label"}}}
]},
{"width": 152, "height": 95, "layer": [
{"data": {"name": "bars"}, "transform": [{"filter": "datum.panel === 'SV'"}], "mark": {"type": "bar", "strokeWidth": 1},
 "encoding": {
  "x": {"field": "group", "type": "nominal", "title": null, "scale": {"domain": ["Control","CT","DCM","DCM+CT"], "paddingInner": 0.31, "paddingOuter": 0.33}},
  "y": {"field": "mean", "type": "quantitative", "scale": {"domain": [0, 1.5], "nice": false}, "axis": {"title": "SV (ml)", "orient": "left", "values": [0, 0.5, 1, 1.5], "format": ".1f", "labelOverlap": false, "labelBound": false, "labelFlush": false, "titleAnchor": "middle", "titleAlign": "center"}},
  "fill": {"condition": [{"test": "datum.group === 'CT'", "value": "#1c1c1c"}, {"test": "datum.group === 'DCM'", "value": "#767676"}], "value": "#ffffff"},
  "stroke": {"condition": [{"test": "datum.group === 'DCM+CT'", "value": "#d0d0d0"}, {"test": "datum.group === 'CT'", "value": "#222222"}, {"test": "datum.group === 'DCM'", "value": "#666666"}], "value": "#555555"}}},
{"data": {"name": "bars"}, "transform": [{"filter": "datum.panel === 'SV'"}], "mark": {"type": "rule", "strokeWidth": 1},
 "encoding": {"x": {"field": "group", "type": "nominal", "title": null}, "y": {"field": "mean", "type": "quantitative", "axis": {"title": "SV (ml)", "orient": "left", "values": [0, 0.5, 1, 1.5], "format": ".1f", "labelOverlap": false, "labelBound": false, "labelFlush": false, "titleAnchor": "middle", "titleAlign": "center"}}, "y2": {"field": "upper"}, "color": {"condition": {"test": "datum.group === 'CT'", "value": "#aaaaaa"}, "value": "#333333"}}},
{"data": {"name": "bars"}, "transform": [{"filter": "datum.panel === 'SV'"}], "mark": {"type": "tick", "orient": "horizontal", "size": 12, "thickness": 1, "opacity": 1},
 "encoding": {"x": {"field": "group", "type": "nominal", "title": null}, "y": {"field": "upper", "type": "quantitative", "axis": {"title": "SV (ml)", "orient": "left", "values": [0, 0.5, 1, 1.5], "format": ".1f", "labelOverlap": false, "labelBound": false, "labelFlush": false, "titleAnchor": "middle", "titleAlign": "center"}}, "color": {"condition": {"test": "datum.group === 'CT'", "value": "#aaaaaa"}, "value": "#333333"}}},
{"data": {"name": "points"}, "transform": [{"filter": "datum.panel === 'SV'"}], "mark": {"type": "point", "size": 24, "strokeWidth": 1, "opacity": 1},
 "encoding": {"x": {"field": "group", "type": "nominal", "title": null}, "xOffset": {"field": "rep", "type": "ordinal", "scale": {"type": "point", "padding": 1.5}}, "y": {"field": "value", "type": "quantitative", "axis": {"title": "SV (ml)", "orient": "left", "values": [0, 0.5, 1, 1.5], "format": ".1f", "labelOverlap": false, "labelBound": false, "labelFlush": false, "titleAnchor": "middle", "titleAlign": "center"}},
  "shape": {"condition": [{"test": "datum.group === 'DCM'", "value": "triangle-down"}, {"test": "datum.group === 'DCM+CT'", "value": "triangle-up"}], "value": "circle"},
  "fill": {"condition": {"test": "datum.group === 'CT'", "value": "transparent"}, "value": "#111111"}, "stroke": {"condition": {"test": "datum.group === 'CT'", "value": "#c8c8c8"}, "value": "#111111"}}},
{"data": {"name": "brackets"}, "transform": [{"filter": "datum.panel === 'SV'"}], "mark": {"type": "rule", "color": "#555555", "strokeWidth": 1},
 "encoding": {"x": {"field": "from", "type": "nominal", "title": null}, "x2": {"field": "to"}, "y": {"field": "y", "type": "quantitative", "axis": {"title": "SV (ml)", "orient": "left", "values": [0, 0.5, 1, 1.5], "format": ".1f", "labelOverlap": false, "labelBound": false, "labelFlush": false, "titleAnchor": "middle", "titleAlign": "center"}}}},
{"data": {"name": "brackets"}, "transform": [{"filter": "datum.panel === 'SV'"}], "mark": {"type": "rule", "color": "#555555", "strokeWidth": 1},
 "encoding": {"x": {"field": "from", "type": "nominal", "title": null}, "y": {"field": "y", "type": "quantitative", "axis": {"title": "SV (ml)", "orient": "left", "values": [0, 0.5, 1, 1.5], "format": ".1f", "labelOverlap": false, "labelBound": false, "labelFlush": false, "titleAnchor": "middle", "titleAlign": "center"}}, "y2": {"field": "ylow"}}},
{"data": {"name": "brackets"}, "transform": [{"filter": "datum.panel === 'SV'"}], "mark": {"type": "rule", "color": "#555555", "strokeWidth": 1},
 "encoding": {"x": {"field": "to", "type": "nominal", "title": null}, "y": {"field": "y", "type": "quantitative", "axis": {"title": "SV (ml)", "orient": "left", "values": [0, 0.5, 1, 1.5], "format": ".1f", "labelOverlap": false, "labelBound": false, "labelFlush": false, "titleAnchor": "middle", "titleAlign": "center"}}, "y2": {"field": "ylow"}}},
{"data": {"name": "brackets"}, "transform": [{"filter": "datum.panel === 'SV'"}], "mark": {"type": "text", "dx": 17.5, "fontSize": 10.5, "color": "#444444"},
 "encoding": {"x": {"field": "from", "type": "nominal", "title": null}, "y": {"field": "ytext", "type": "quantitative", "axis": {"title": "SV (ml)", "orient": "left", "values": [0, 0.5, 1, 1.5], "format": ".1f", "labelOverlap": false, "labelBound": false, "labelFlush": false, "titleAnchor": "middle", "titleAlign": "center"}}, "text": {"field": "label"}}},
{"data": {"name": "sig"}, "transform": [{"filter": "datum.panel === 'SV'"}], "mark": {"type": "text", "fontSize": 9, "color": "#555555"},
 "encoding": {"x": {"field": "group", "type": "nominal", "title": null}, "y": {"field": "y", "type": "quantitative", "axis": {"title": "SV (ml)", "orient": "left", "values": [0, 0.5, 1, 1.5], "format": ".1f", "labelOverlap": false, "labelBound": false, "labelFlush": false, "titleAnchor": "middle", "titleAlign": "center"}}, "text": {"field": "label"}}}
]}
], "spacing": 5, "resolve": {"scale": {"xOffset": "independent"}}}
],
"config": {
 "font": "Liberation Serif",
 "view": {"stroke": null},
 "axis": {"grid": false, "domainColor": "#707070", "tickColor": "#707070", "labelColor": "#444444", "titleColor": "#444444", "labelFont": "Liberation Serif", "titleFont": "Liberation Serif", "titleFontWeight": "normal", "tickSize": 4, "domainWidth": 1, "tickWidth": 1},
 "axisX": {"labelAngle": -90, "labelFontSize": 11, "labelPadding": 3},
 "axisY": {"labelFontSize": 10, "titleFontSize": 10.5, "labelPadding": 2, "titlePadding": 5},
 "text": {"font": "Liberation Serif"}
}
}
